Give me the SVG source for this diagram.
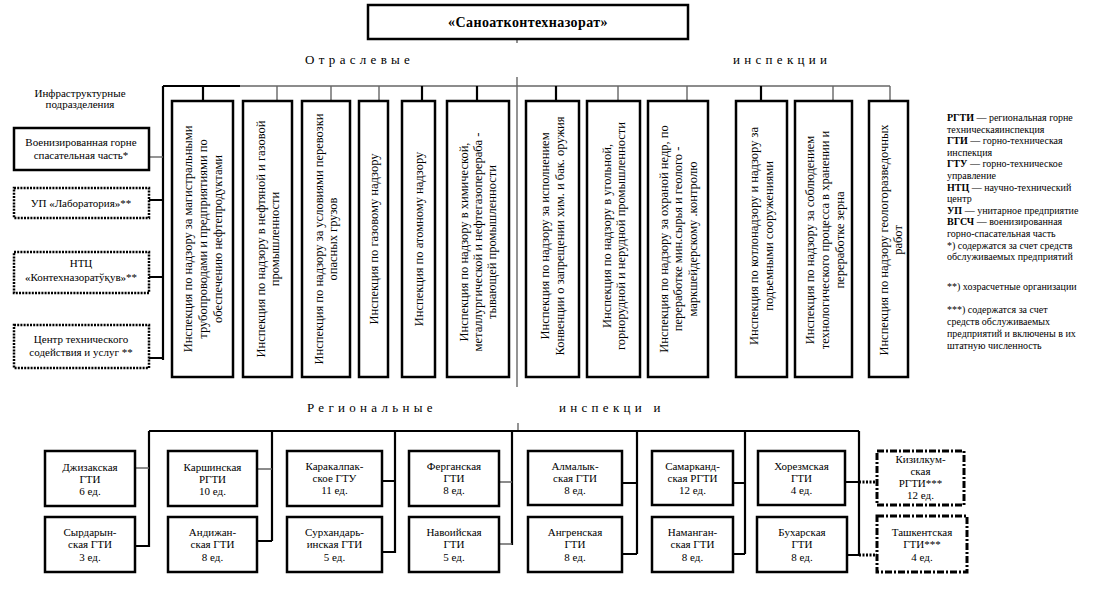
<svg xmlns="http://www.w3.org/2000/svg" width="1106" height="603" viewBox="0 0 1106 603" font-family="'Liberation Serif', 'Times New Roman', 'DejaVu Serif', serif">
<style>
text{font-family:'Liberation Serif','Times New Roman','DejaVu Serif',serif;fill:#000}
.box{fill:#fff;stroke:#000;stroke-width:2.5}
.dot{fill:#fff;stroke:#000;stroke-width:2.5;stroke-dasharray:2 1.2}
.dd{fill:#fff;stroke:#000;stroke-width:3;stroke-dasharray:7 2 2 2}
.vt{font-size:12.5px;text-anchor:middle}
.rt{font-size:11px;text-anchor:middle}
.it{font-size:11px;text-anchor:middle}
.lg{font-size:10px}
.hd{font-size:13px;letter-spacing:4.3px}
.k{stroke:#000;stroke-width:2.2;fill:none}
.g{stroke:#666;stroke-width:1.4;fill:none}
.kd{stroke:#000;stroke-width:3;stroke-dasharray:2 1.5;fill:none}
</style>
<rect width="1106" height="603" fill="#fff"/>

<g id="connectors">
<line class="g" x1="517" y1="39" x2="517" y2="43"/>
<line class="g" x1="517" y1="77" x2="517" y2="387"/>
<line class="g" x1="518" y1="423" x2="518" y2="431"/>
<path class="k" d="M163 86 H240 M163 86 V360"/>
<path class="g" d="M240 86 H890"/>
<path class="g" d="M149 157 H163"/>
<path class="k" d="M149 200 H163 M149 277 H163 M149 358 H163"/>
<path class="k" d="M203 86 V101 M422 86 V101 M477 86 V101 M556 86 V101 M761 86 V101"/>
<path class="g" d="M277 86 V101 M331 86 V101 M379 86 V101 M618 86 V101 M687 86 V101 M833 86 V101 M890 86 V101"/>
<path class="k" stroke-width="2.6" d="M149 431 H859 M149 431 V547 M272 431 V541 M395 431 V553"/>
<path class="k" d="M512 431 V545 M637 431 V554 M745 431 V554 M859 431 V555"/>
<path class="g" d="M135 468 H149 M257 469 H272 M499 482 H512 M499 544 H512"/>
<path class="k" stroke-width="2.6" d="M135 546 H149 M257 541 H272 M382 481 H395 M382 552 H395"/>
<path class="k" d="M622 483 H637 M622 554 H637 M733 483 H745 M733 554 H745 M845 482 H859 M847 555 H859"/>
<path class="kd" d="M859 482 H877 M859 555 H877"/>
</g>

<g id="title">
<rect class="box" x="368" y="5" width="320" height="34"/>
<text x="528" y="27" font-size="14" font-weight="bold" text-anchor="middle" letter-spacing="0.4">«Саноатконтехназорат»</text>
</g>

<g id="headers">
<text class="hd" x="305" y="64">Отраслевые</text>
<text class="hd" x="733" y="64" letter-spacing="4.6px">инспекции</text>
<text class="hd" x="307" y="412" letter-spacing="4.2px">Региональные</text>
<text class="hd" x="559" y="412" letter-spacing="4.4px">инспекци и</text>
</g>

<g id="infra-label">
<text class="it" x="80" y="97" font-size="10.5">Инфраструктурные</text>
<text class="it" x="80" y="108" font-size="10.5">подразделения</text>
</g>
<g id="infra-vgsch">
<rect class="box" x="14" y="128" width="135" height="42"/>
<text class="it" x="81" y="146">Военизированная горне</text>
<text class="it" x="81" y="159">спасательная часть*</text>
</g>
<g id="infra-lab">
<rect class="dot" x="14" y="188" width="135" height="30"/>
<text class="it" x="81" y="207">УП «Лаборатория»**</text>
</g>
<g id="infra-ntc">
<rect class="dot" x="14" y="252" width="135" height="41"/>
<text class="it" x="81" y="267">НТЦ</text>
<text class="it" x="81" y="281">«Контехназоратўқув»**</text>
</g>
<g id="infra-center">
<rect class="dot" x="14" y="325" width="135" height="43"/>
<text class="it" x="81" y="343">Центр технического</text>
<text class="it" x="81" y="356">содействия и услуг **</text>
</g>

<g id="insp-a">
<rect class="box" x="172" y="101" width="61" height="276"/>
<text class="vt" transform="translate(202.5,239) rotate(-90)"><tspan x="0" y="-11">Инспекция по надзору за магистральными</tspan><tspan x="0" y="4">трубопроводами и предприятиями по</tspan><tspan x="0" y="19">обеспечению нефтепродуктами</tspan></text>
</g>
<g id="insp-b">
<rect class="box" x="243" y="101" width="49" height="276"/>
<text class="vt" transform="translate(267.5,239) rotate(-90)"><tspan x="0" y="-3">Инспекция по надзору в нефтяной и газовой</tspan><tspan x="0" y="11">промышленности</tspan></text>
</g>
<g id="insp-c">
<rect class="box" x="302" y="101" width="48" height="276"/>
<text class="vt" transform="translate(326,239) rotate(-90)"><tspan x="0" y="-3">Инспекция по надзору за условиями перевозки</tspan><tspan x="0" y="11">опасных грузов</tspan></text>
</g>
<g id="insp-d">
<rect class="box" x="359" y="101" width="29" height="276"/>
<text class="vt" transform="translate(374,239) rotate(-90)"><tspan x="0" y="4">Инспекция по газовому надзору</tspan></text>
</g>
<g id="insp-e">
<rect class="box" x="402" y="101" width="33" height="276"/>
<text class="vt" transform="translate(419,239) rotate(-90)"><tspan x="0" y="4">Инспекция по  атомному надзору</tspan></text>
</g>
<g id="insp-f">
<rect class="box" x="447" y="101" width="62" height="276"/>
<text class="vt" transform="translate(478,242) rotate(-90)"><tspan x="0" y="-10">Инспекция по надзору в химической,</tspan><tspan x="0" y="4">металлургической и нефтегазоперераба -</tspan><tspan x="0" y="18">тывающей промышленности</tspan></text>
</g>
<g id="insp-g">
<rect class="box" x="526" y="101" width="53" height="276"/>
<text class="vt" transform="translate(552.5,236) rotate(-90)"><tspan x="0" y="-3.5">Инспекция  по надзору за исполнением</tspan><tspan x="0" y="11.5">Конвенции о запрещении хим. и бак. оружия</tspan></text>
</g>
<g id="insp-h">
<rect class="box" x="587" y="101" width="53" height="276"/>
<text class="vt" transform="translate(613.5,236) rotate(-90)"><tspan x="0" y="-3">Инспекция по надзору в угольной,</tspan><tspan x="0" y="11">горнорудной и   нерудной промышленности</tspan></text>
</g>
<g id="insp-i">
<rect class="box" x="648" y="101" width="60" height="276"/>
<text class="vt" transform="translate(678,239) rotate(-90)"><tspan x="0" y="-10.5">Инспекция по надзору за охраной недр, по</tspan><tspan x="0" y="4">переработке мин.сырья и геолого -</tspan><tspan x="0" y="18.5">маркшейдерскому .контролю</tspan></text>
</g>
<g id="insp-j">
<rect class="box" x="736" y="101" width="51" height="276"/>
<text class="vt" transform="translate(761.5,236) rotate(-90)"><tspan x="0" y="-3.5">Инспекция по котлонадзору и надзору за</tspan><tspan x="0" y="11.5">подъемными сооружениями</tspan></text>
</g>
<g id="insp-k">
<rect class="box" x="795" y="101" width="57" height="276"/>
<text class="vt" transform="translate(823.5,240) rotate(-90)"><tspan x="0" y="-10">Инспекция по надзору за соблюдением</tspan><tspan x="0" y="5">технологического процесса в хранении и</tspan><tspan x="0" y="20">переработке зерна</tspan></text>
</g>
<g id="insp-l">
<rect class="box" x="869" y="101" width="39" height="276"/>
<text class="vt" transform="translate(891,240) rotate(-90)"><tspan x="0" y="-3">Инспекция  по надзору геологоразведочных</tspan><tspan x="0" y="11">работ</tspan></text>
</g>

<g id="legend" class="lg">
<text class="lg" x="947" y="121"><tspan font-weight="bold">РГТИ</tspan> — региональная горне</text>
<text class="lg" x="947" y="132.6">техническаяинспекция</text>
<text class="lg" x="947" y="144.2"><tspan font-weight="bold">ГТИ</tspan> — горно-техническая</text>
<text class="lg" x="947" y="155.8">инспекция</text>
<text class="lg" x="947" y="167.4"><tspan font-weight="bold">ГТУ</tspan> — горно-техническое</text>
<text class="lg" x="947" y="179">управление</text>
<text class="lg" x="947" y="190.6"><tspan font-weight="bold">НТЦ</tspan> — научно-технический</text>
<text class="lg" x="947" y="202.2">центр</text>
<text class="lg" x="947" y="213.8"><tspan font-weight="bold">УП</tspan> — унитарное предприятие</text>
<text class="lg" x="947" y="225.4"><tspan font-weight="bold">ВГСЧ</tspan> — военизированная</text>
<text class="lg" x="947" y="237">горно-спасательная часть</text>
<text class="lg" x="947" y="248.6">*) содержатся за счет средств</text>
<text class="lg" x="947" y="260.2">обслуживаемых предприятий</text>
<text class="lg" x="947" y="290">**)  хозрасчетные организации</text>
<text class="lg" x="947" y="313">***) содержатся за счет</text>
<text class="lg" x="947" y="325">средств обслуживаемых</text>
<text class="lg" x="947" y="337">предприятий и включены в их</text>
<text class="lg" x="947" y="349">штатную численность</text>
</g>

<g id="r-dzhizak"><rect class="box" x="45" y="451" width="90" height="55"/><text class="rt" x="90" y="471">Джизакская</text><text class="rt" x="90" y="483">ГТИ</text><text class="rt" x="90" y="495">6 ед.</text></g>
<g id="r-syrdarya"><rect class="box" x="45" y="517" width="90" height="55"/><text class="rt" x="90" y="536">Сырдарын-</text><text class="rt" x="90" y="548">ская ГТИ</text><text class="rt" x="90" y="561">3 ед.</text></g>
<g id="r-karshi"><rect class="box" x="168" y="451" width="89" height="55"/><text class="rt" x="212.5" y="471">Каршинская</text><text class="rt" x="212.5" y="483">РГТИ</text><text class="rt" x="212.5" y="495">10 ед.</text></g>
<g id="r-andijan"><rect class="box" x="168" y="517" width="89" height="55"/><text class="rt" x="212.5" y="536">Андижан-</text><text class="rt" x="212.5" y="548">ская ГТИ</text><text class="rt" x="212.5" y="561">8 ед.</text></g>
<g id="r-karakalpak"><rect class="box" x="287" y="451" width="95" height="55"/><text class="rt" x="334.5" y="470">Каракалпак-</text><text class="rt" x="334.5" y="482">ское ГТУ</text><text class="rt" x="334.5" y="494">11 ед.</text></g>
<g id="r-surkhan"><rect class="box" x="287" y="517" width="95" height="55"/><text class="rt" x="334.5" y="536">Сурхандарь-</text><text class="rt" x="334.5" y="548">инская ГТИ</text><text class="rt" x="334.5" y="561">5 ед.</text></g>
<g id="r-fergana"><rect class="box" x="409" y="451" width="90" height="55"/><text class="rt" x="454" y="470">Ферганская</text><text class="rt" x="454" y="482">ГТИ</text><text class="rt" x="454" y="494">8 ед.</text></g>
<g id="r-navoi"><rect class="box" x="409" y="517" width="90" height="55"/><text class="rt" x="454" y="536">Навоийская</text><text class="rt" x="454" y="548">ГТИ</text><text class="rt" x="454" y="561">5 ед.</text></g>
<g id="r-almalyk"><rect class="box" x="528" y="451" width="94" height="54"/><text class="rt" x="575" y="470">Алмалык-</text><text class="rt" x="575" y="482">ская ГТИ</text><text class="rt" x="575" y="494">8 ед.</text></g>
<g id="r-angren"><rect class="box" x="528" y="517" width="94" height="55"/><text class="rt" x="575" y="536">Ангренская</text><text class="rt" x="575" y="548">ГТИ</text><text class="rt" x="575" y="561">8 ед.</text></g>
<g id="r-samarkand"><rect class="box" x="652" y="451" width="81" height="54"/><text class="rt" x="692.5" y="470">Самарканд-</text><text class="rt" x="692.5" y="482">ская РГТИ</text><text class="rt" x="692.5" y="494">12 ед.</text></g>
<g id="r-namangan"><rect class="box" x="652" y="517" width="81" height="55"/><text class="rt" x="692.5" y="536">Наманган-</text><text class="rt" x="692.5" y="548">ская ГТИ</text><text class="rt" x="692.5" y="561">8 ед.</text></g>
<g id="r-khorezm"><rect class="box" x="758" y="451" width="87" height="54"/><text class="rt" x="801.5" y="470">Хорезмская</text><text class="rt" x="801.5" y="482">ГТИ</text><text class="rt" x="801.5" y="494">4 ед.</text></g>
<g id="r-bukhara"><rect class="box" x="757" y="517" width="90" height="55"/><text class="rt" x="802" y="536">Бухарская</text><text class="rt" x="802" y="548">ГТИ</text><text class="rt" x="802" y="561">8 ед.</text></g>
<g id="r-kyzylkum"><rect class="dd" x="877" y="451" width="87" height="54"/><text class="rt" x="920.5" y="463">Кизилкум-</text><text class="rt" x="920.5" y="475">ская</text><text class="rt" x="920.5" y="487">РГТИ***</text><text class="rt" x="920.5" y="499">12 ед.</text></g>
<g id="r-tashkent"><rect class="dd" x="877" y="516" width="90" height="56"/><text class="rt" x="922" y="536">Ташкентская</text><text class="rt" x="922" y="548">ГТИ***</text><text class="rt" x="922" y="561">4 ед.</text></g>
</svg>
